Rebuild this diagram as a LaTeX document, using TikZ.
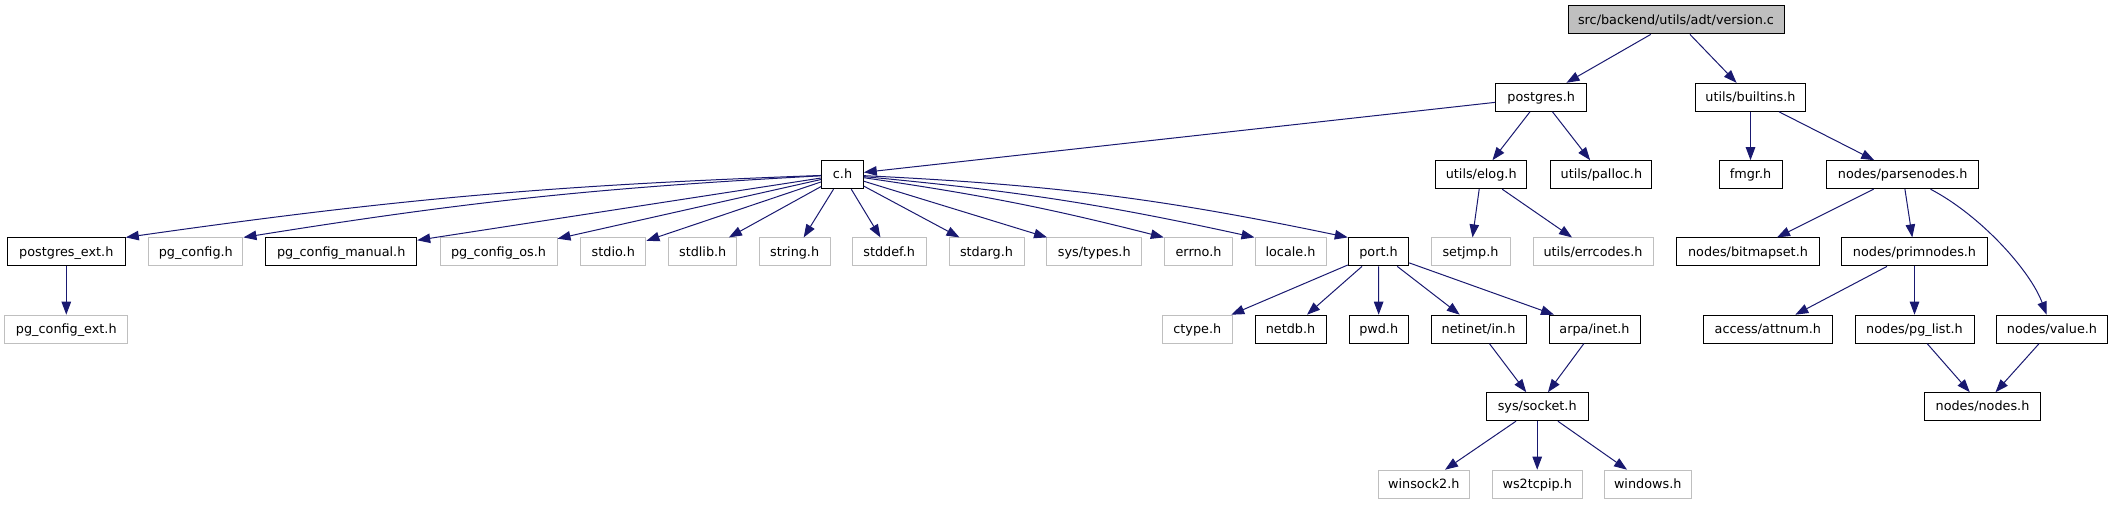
\documentclass[tikz,border=0pt]{standalone}
\usepackage{fontspec}
\setmainfont{DejaVu Sans}
\usetikzlibrary{arrows.meta}
\definecolor{edgec}{HTML}{191970}
\definecolor{grayb}{HTML}{BFBFBF}
\begin{document}
\begin{tikzpicture}[x=1pt,y=-1pt,
  box/.style={draw=black, line width=1pt, minimum height=28pt, inner sep=0pt,
    text height=11pt, text depth=2.8pt, font=\fontsize{12.8}{15}\selectfont},
  ext/.style={box, draw=grayb},
  root/.style={box, fill=grayb},
  e/.style={draw=edgec, line width=1pt, -{Triangle[length=13pt,width=9.5pt]}}]
\useasboundingbox (0,0) rectangle (2112,504);
% rank 0
\node[root, minimum width=216pt] (version) at (1676,19.9) {src/backend/utils/adt/version.c};
% rank 1
\node[box, minimum width=91pt] (postgres) at (1541.2,97.3) {postgres.h};
\node[box, minimum width=110pt] (builtins) at (1750.5,97.3) {utils/builtins.h};
% rank 2
\node[box, minimum width=41.6pt] (ch) at (842.5,174.7) {c.h};
\node[box, minimum width=91pt] (elog) at (1481.2,174.7) {utils/elog.h};
\node[box, minimum width=101pt] (palloc) at (1601.4,174.7) {utils/palloc.h};
\node[box, minimum width=63pt] (fmgr) at (1750.5,174.7) {fmgr.h};
\node[box, minimum width=152.5pt] (parsen) at (1902.7,174.7) {nodes/parsenodes.h};
% rank 3
\node[box, minimum width=118pt] (pe) at (66.3,251.9) {postgres\_ext.h};
\node[ext, minimum width=94.3pt] (pgc) at (195.8,251.9) {pg\_config.h};
\node[box, minimum width=151pt] (pgcm) at (341.2,251.9) {pg\_config\_manual.h};
\node[ext, minimum width=117pt] (pgco) at (498.5,251.9) {pg\_config\_os.h};
\node[ext, minimum width=65.3pt] (stdio) at (613.3,251.9) {stdio.h};
\node[ext, minimum width=68pt] (stdlib) at (702.7,251.9) {stdlib.h};
\node[ext, minimum width=71.3pt] (string) at (794.7,251.9) {string.h};
\node[ext, minimum width=73.7pt] (stddef) at (889.2,251.9) {stddef.h};
\node[ext, minimum width=75pt] (stdarg) at (986.5,251.9) {stdarg.h};
\node[ext, minimum width=95.3pt] (systypes) at (1094.3,251.9) {sys/types.h};
\node[ext, minimum width=68.4pt] (errno) at (1198.5,251.9) {errno.h};
\node[ext, minimum width=71pt] (locale) at (1290.5,251.9) {locale.h};
\node[box, minimum width=60.4pt] (port) at (1378.5,251.9) {port.h};
\node[ext, minimum width=79pt] (setjmp) at (1470.5,251.9) {setjmp.h};
\node[ext, minimum width=120pt] (errcodes) at (1593,251.9) {utils/errcodes.h};
\node[box, minimum width=143pt] (bitmap) at (1748,251.9) {nodes/bitmapset.h};
\node[box, minimum width=146pt] (primn) at (1914.5,251.9) {nodes/primnodes.h};
% rank 4
\node[ext, minimum width=122.7pt] (pgce) at (66.3,329.2) {pg\_config\_ext.h};
\node[ext, minimum width=70pt] (ctype) at (1197.3,329.2) {ctype.h};
\node[box, minimum width=71pt] (netdb) at (1290.5,329.2) {netdb.h};
\node[box, minimum width=59.3pt] (pwd) at (1378.7,329.2) {pwd.h};
\node[box, minimum width=95pt] (netinet) at (1478.5,329.2) {netinet/in.h};
\node[box, minimum width=91pt] (arpa) at (1594.5,329.2) {arpa/inet.h};
\node[box, minimum width=129.5pt] (attnum) at (1767.8,329.2) {access/attnum.h};
\node[box, minimum width=119pt] (pglist) at (1914.5,329.2) {nodes/pg\_list.h};
\node[box, minimum width=111pt] (value) at (2052,329.2) {nodes/value.h};
% rank 5
\node[box, minimum width=101.7pt] (socket) at (1537.2,406.7) {sys/socket.h};
\node[box, minimum width=116.4pt] (nodesh) at (1982.5,406.7) {nodes/nodes.h};
% rank 6
\node[ext, minimum width=91pt] (winsock) at (1423.8,484.2) {winsock2.h};
\node[ext, minimum width=89.7pt] (ws2) at (1537.2,484.2) {ws2tcpip.h};
\node[ext, minimum width=86.7pt] (windows) at (1647.7,484.2) {windows.h};
% edges
\draw[e] (version) -- (postgres);
\draw[e] (version) -- (builtins);
\draw[e] (postgres) -- (ch);
\draw[e] (postgres) -- (elog);
\draw[e] (postgres) -- (palloc);
\draw[e] (builtins) -- (fmgr);
\draw[e] (builtins) -- (parsen);
\draw[e] (ch) to[bend right=3] (pe.north east);
\draw[e] (ch) to[bend right=3] (pgc.north east);
\draw[e] (ch) -- (pgcm);
\draw[e] (ch) -- (pgco);
\draw[e] (ch) -- (stdio);
\draw[e] (ch) -- (stdlib);
\draw[e] (ch) -- (string);
\draw[e] (ch) -- (stddef);
\draw[e] (ch) -- (stdarg);
\draw[e] (ch) -- (systypes);
\draw[e] (ch) to[bend left=3] (errno.north west);
\draw[e] (ch) to[bend left=3.5] (locale.north west);
\draw[e] (ch) to[bend left=4.5] (port.north west);
\draw[e] (pe) -- (pgce);
\draw[e] (elog) -- (setjmp);
\draw[e] (elog) -- (errcodes);
\draw[e] (parsen) -- (bitmap);
\draw[e] (parsen) -- (primn);
\draw[e] (parsen) .. controls (1980,215) and (2030,270) .. (value);
\draw[e] (port) -- (ctype);
\draw[e] (port) -- (netdb);
\draw[e] (port) -- (pwd);
\draw[e] (port) -- (netinet);
\draw[e] (port) -- (arpa);
\draw[e] (netinet) -- (socket);
\draw[e] (arpa) -- (socket);
\draw[e] (socket) -- (winsock);
\draw[e] (socket) -- (ws2);
\draw[e] (socket) -- (windows);
\draw[e] (primn) -- (attnum);
\draw[e] (primn) -- (pglist);
\draw[e] (pglist) -- (nodesh);
\draw[e] (value) -- (nodesh);
\end{tikzpicture}
\end{document}
